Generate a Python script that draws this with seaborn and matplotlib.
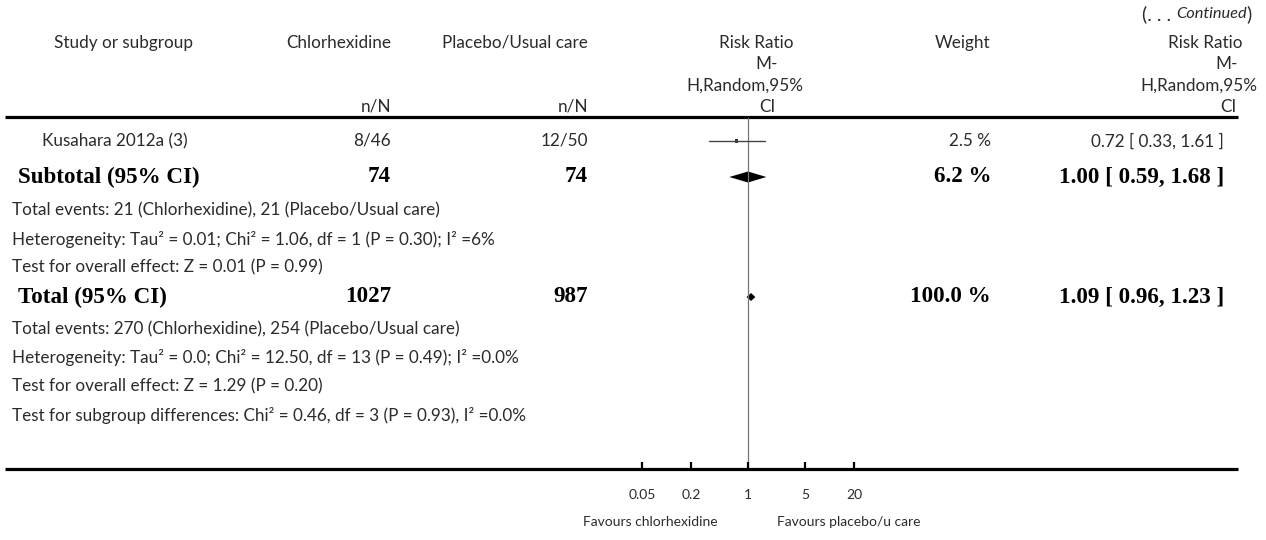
import matplotlib
matplotlib.use("Agg")
import matplotlib.pyplot as plt
import seaborn as sns
import numpy as np
import pandas as pd

# ---------------- data ----------------
study_names = ["Kusahara 2012a (3)"]
study_chx = ["8/46"]
study_ctl = ["12/50"]
study_rr = [0.72]
study_lo = [0.33]
study_hi = [1.61]
study_weight = ["2.5 %"]
study_ci_text = ["0.72 [ 0.33, 1.61 ]"]

summary_labels = ["Subtotal (95% CI)", "Total (95% CI)"]
summary_chx = ["74", "1027"]
summary_ctl = ["74", "987"]
summary_rr = [1.00, 1.09]
summary_lo = [0.59, 0.96]
summary_hi = [1.68, 1.23]
summary_weight = ["6.2 %", "100.0 %"]
summary_ci_text = ["1.00 [ 0.59, 1.68 ]", "1.09 [ 0.96, 1.23 ]"]

subtotal_notes = [
    "Total events: 21 (Chlorhexidine), 21 (Placebo/Usual care)",
    "Heterogeneity: Tau\u00b2 = 0.01; Chi\u00b2 = 1.06, df = 1 (P = 0.30); I\u00b2 =6%",
    "Test for overall effect: Z = 0.01 (P = 0.99)",
]
total_notes = [
    "Total events: 270 (Chlorhexidine), 254 (Placebo/Usual care)",
    "Heterogeneity: Tau\u00b2 = 0.0; Chi\u00b2 = 12.50, df = 13 (P = 0.49); I\u00b2 =0.0%",
    "Test for overall effect: Z = 1.29 (P = 0.20)",
    "Test for subgroup differences: Chi\u00b2 = 0.46, df = 3 (P = 0.93), I\u00b2 =0.0%",
]

header_cols = ["Study or subgroup", "Chlorhexidine", "Placebo/Usual care", "Weight"]
rr_header_lines = ["Risk Ratio", "M-", "H,Random,95%", "CI"]
tick_values = [0.05, 0.2, 1, 5, 20]
tick_labels = ["0.05", "0.2", "1", "5", "20"]
favours_left = "Favours chlorhexidine"
favours_right = "Favours placebo/u care"

# ---------------- style ----------------
sns.set_theme(style="white")
plt.rcParams["font.family"] = ["Lato", "DejaVu Sans"]

W, H = 1266, 540
fig = plt.figure(figsize=(W / 100, H / 100), dpi=100)

# text layer in pixel coordinates
ax = fig.add_axes([0, 0, 1, 1])
ax.set_xlim(0, W)
ax.set_ylim(H, 0)
ax.axis("off")

# forest layer: log x scale
X1, PPD = 748.0, 81.5
ax_f = fig.add_axes([0, 0, 1, 1])
ax_f.set_xscale("log")
ax_f.patch.set_alpha(0)

TXT = "#2b2b2b"
FS = 12.3
AFS = 10
BFS = 16.6
bold = dict(family=["Liberation Serif", "DejaVu Serif"], fontweight="bold",
            fontsize=BFS, color="black")
norm = dict(fontsize=FS, color=TXT)
small = dict(fontsize=AFS, color=TXT)

# ---- header ----
ax.text(124, 43, header_cols[0], ha="center", va="center", **norm)
ax.text(391, 43, header_cols[1], ha="right", va="center", **norm)
ax.text(588, 43, header_cols[2], ha="right", va="center", **norm)
ax.text(990, 43, header_cols[3], ha="right", va="center", **norm)
ax.text(391, 107, "n/N", ha="right", va="center", **norm)
ax.text(588, 107, "n/N", ha="right", va="center", **norm)
rr_y = [43, 64, 86, 107]
mid_cx = [756, 767, 745, 767]
right_cx = [1205, 1227, 1199, 1228]
for line, y, cx1, cx2 in zip(rr_header_lines, rr_y, mid_cx, right_cx):
    ax.text(cx1, y, line, ha="center", va="center", **norm)
    ax.text(cx2, y, line, ha="center", va="center", **norm)

# (. . . Continued)
r = fig.canvas.get_renderer()
xr = 1252
t1 = ax.text(xr, 14, ")", ha="right", va="center", fontsize=14, color=TXT)
w1 = t1.get_window_extent(r).width
t2 = ax.text(xr - w1, 14, "Continued", ha="right", va="center",
             fontsize=FS - 0.5, style="italic", color=TXT)
w2 = t2.get_window_extent(r).width
ax.text(xr - w1 - w2, 14, "(. . . ", ha="right", va="center", fontsize=14, color=TXT)

# rules
ax.plot([5, 1238], [117, 117], color="black", lw=2.3, solid_capstyle="butt")
ax.plot([5, 1238], [469, 469], color="black", lw=2.3, solid_capstyle="butt")

# ---- study row ----
study_y = [141]
for i, y in enumerate(study_y):
    ax.text(42, y, study_names[i], ha="left", va="center", **norm)
    ax.text(391, y, study_chx[i], ha="right", va="center", **norm)
    ax.text(588, y, study_ctl[i], ha="right", va="center", **norm)
    ax.text(991, y, study_weight[i], ha="right", va="center", **norm)
    ax.text(1224, y, study_ci_text[i], ha="right", va="center", **norm)

# ---- summary rows ----
summary_y = [177, 297]
for i, y in enumerate(summary_y):
    ax.text(18, y, summary_labels[i], ha="left", va="center", **bold)
    ax.text(391, y, summary_chx[i], ha="right", va="center", **bold)
    ax.text(588, y, summary_ctl[i], ha="right", va="center", **bold)
    ax.text(991, y, summary_weight[i], ha="right", va="center", **bold)
    ax.text(1224, y, summary_ci_text[i], ha="right", va="center", **bold)

for note, y in zip(subtotal_notes, [210, 239, 267]):
    ax.text(12, y, note, ha="left", va="center", **norm)
for note, y in zip(total_notes, [329, 358, 386, 415]):
    ax.text(12, y, note, ha="left", va="center", **norm)

# ---- forest plot ----
ax_f.plot([1, 1], [118, 468], color="#777777", lw=0.9)
for i, y in enumerate(study_y):
    ax_f.plot([study_lo[i], study_hi[i]], [y, y], color="#444444", lw=1.0)
df_pts = pd.DataFrame({"rr": study_rr, "y": study_y})
sns.scatterplot(data=df_pts, x="rr", y="y", marker="s", s=7, color="#333333",
                edgecolor="none", ax=ax_f, legend=False)
half_h = [5.5, 4.0]
for i, y in enumerate(summary_y):
    h = half_h[i]
    ax_f.fill([summary_lo[i], summary_rr[i], summary_hi[i], summary_rr[i]],
              [y, y - h, y, y + h], color="black", lw=0)

for v, lab in zip(tick_values, tick_labels):
    ax_f.plot([v, v], [462, 469], color="black", lw=1.6, solid_capstyle="butt")
    ax_f.text(v, 495, lab, ha="center", va="center", **small)

ax.text(718, 522, favours_left, ha="right", va="center", **small)
ax.text(777, 522, favours_right, ha="left", va="center", **small)

ax_f.set_xlim(10 ** ((0 - X1) / PPD), 10 ** ((W - X1) / PPD))
ax_f.set_ylim(H, 0)
ax_f.axis("off")

fig.savefig("out.png", dpi=100)
